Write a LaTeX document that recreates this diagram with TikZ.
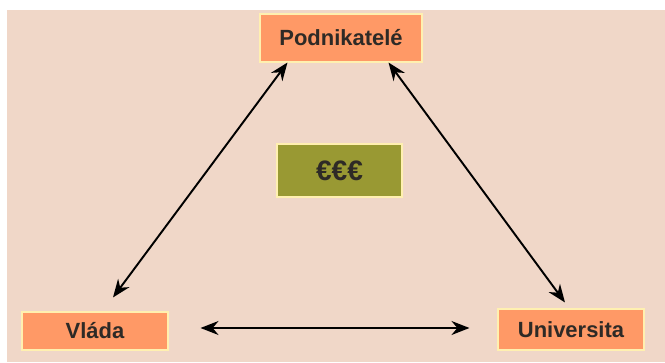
\documentclass[tikz,border=0pt]{standalone}
\usepackage{fontspec}
\setmainfont{Liberation Sans}
\usetikzlibrary{arrows.meta}

\definecolor{bgpeach}{HTML}{F0D7C8}
\definecolor{boxorange}{HTML}{FF9966}
\definecolor{boxolive}{HTML}{999933}
\definecolor{rimyellow}{HTML}{FFF0B0}
\definecolor{textdark}{HTML}{2E2A26}

\begin{document}
\begin{tikzpicture}[
    actor/.style={rectangle, fill=boxorange, draw=rimyellow, line width=0.6pt,
      text=textdark, font=\fontsize{12.5}{15}\selectfont\bfseries},
    money/.style={rectangle, fill=boxolive, draw=rimyellow, line width=0.6pt,
      text=textdark, font=\fontsize{16}{18}\selectfont\bfseries},
    link/.style={line width=1.1pt, {Stealth[length=3.6mm,width=2.8mm]}-{Stealth[length=3.6mm,width=2.8mm]}}
  ]
      \useasboundingbox (0,0) rectangle (13.30,7.24);
      \fill[bgpeach] (0.14,0) rectangle (13.30,7.04);

      \node[actor, minimum width=3.24cm, minimum height=0.96cm](Pod) at ( 6.82, 6.48){Podnikatelé};
      \node[actor, minimum width=2.92cm, minimum height=0.76cm](Vla) at ( 1.90, 0.62){Vláda};
      \node[actor, minimum width=2.92cm, minimum height=0.82cm](Uni) at (11.42, 0.65){Universita};
      \node[money, minimum width=2.50cm, minimum height=1.06cm](Eur) at ( 6.79, 3.83){€€€};

      \draw[link] ([xshift=0.56cm]Pod.south west) -- ([xshift=0.36cm, yshift=0.28cm]Vla.north);
      \draw[link] ([xshift=-0.68cm]Pod.south east) -- ([xshift=-0.12cm, yshift=0.12cm]Uni.north);
      \draw[link] ([xshift=0.64cm, yshift=0.06cm]Vla.east) -- ([xshift=-0.56cm, yshift=0.03cm]Uni.west);
    \end{tikzpicture}
\end{document}
